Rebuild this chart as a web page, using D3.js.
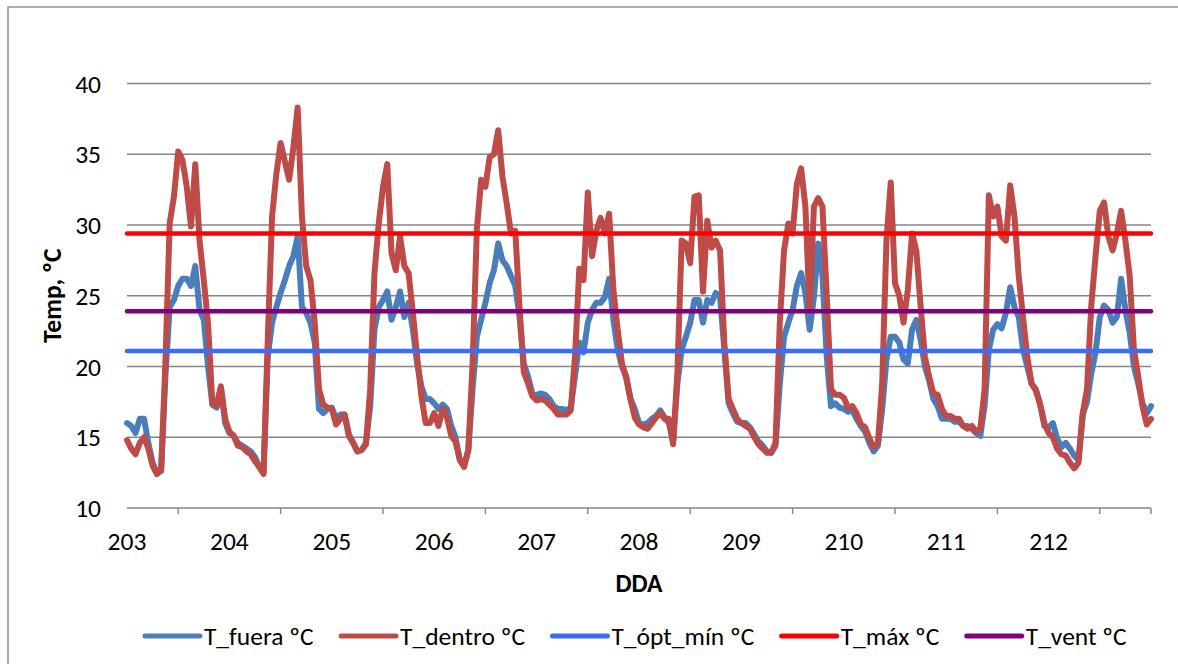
<!DOCTYPE html>
<html>
<head>
<meta charset="utf-8">
<script src="https://cdn.jsdelivr.net/npm/d3@7"></script>
<style>
 body { margin: 0; background: #fff; }
 text { font-family: Carlito, Lato, sans-serif; fill: #000; }
</style>
</head>
<body>
<svg width="1178" height="664"></svg>
<script>

// Data: hourly values, day 203 00:00 to day 213 00:00.

var days = [203, 204, 205, 206, 207, 208, 209, 210, 211, 212];
var yTicks = [10, 15, 20, 25, 30, 35, 40];
var firstDay = 203;
var pointsPerDay = 24;

var tFuera = [
 16.0, 15.8, 15.3, 16.3, 16.3, 14.6, 13.2, 12.5, 12.6, 19.3, 24.2, 24.7, 25.7, 26.2, 26.2, 25.7, 27.1, 24.0, 23.3, 20.0, 17.3, 17.1, 18.5, 16.0,
 15.3, 15.1, 14.6, 14.4, 14.2, 14.0, 13.6, 12.9, 12.5, 20.7, 23.1, 24.2, 25.2, 26.1, 27.1, 27.8, 29.2, 24.2, 23.8, 23.1, 21.7, 17.0, 16.7, 17.0,
 17.1, 16.3, 16.6, 16.6, 15.2, 14.6, 14.0, 14.1, 14.6, 17.2, 22.6, 24.2, 24.7, 25.3, 23.3, 24.2, 25.3, 23.5, 24.5, 22.6, 20.2, 18.6, 17.7, 17.7,
 17.4, 17.0, 17.3, 17.0, 15.8, 15.0, 13.4, 13.0, 14.1, 18.4, 22.1, 23.3, 24.5, 25.9, 26.8, 28.7, 27.5, 27.1, 26.4, 25.7, 23.5, 20.2, 19.3, 18.1,
 18.0, 18.1, 18.0, 17.7, 17.2, 17.0, 17.0, 16.9, 17.1, 19.3, 21.7, 21.0, 23.1, 24.0, 24.5, 24.5, 24.9, 26.2, 23.3, 21.2, 20.0, 19.3, 17.7, 17.0,
 16.0, 15.9, 16.0, 16.3, 16.5, 16.9, 16.4, 16.0, 14.7, 18.8, 21.2, 22.1, 23.1, 24.7, 24.7, 23.1, 24.7, 24.5, 25.2, 24.9, 21.2, 17.4, 16.7, 16.1,
 16.0, 16.0, 15.7, 15.2, 14.7, 14.4, 14.0, 13.9, 14.4, 18.8, 22.1, 23.1, 24.0, 25.7, 26.6, 25.2, 22.6, 24.9, 28.7, 26.4, 20.7, 17.2, 17.4, 17.1,
 17.0, 16.8, 16.9, 16.3, 15.8, 15.4, 14.6, 14.0, 14.4, 17.0, 20.5, 22.1, 22.1, 21.7, 20.5, 20.2, 22.6, 23.3, 21.9, 20.0, 19.0, 17.7, 17.2, 16.3,
 16.3, 16.3, 16.1, 16.1, 15.8, 15.8, 15.6, 15.3, 15.1, 17.2, 21.2, 22.6, 23.0, 22.7, 23.8, 25.6, 24.2, 23.5, 21.2, 20.0, 18.8, 18.4, 17.4, 15.8,
 15.7, 16.0, 14.9, 14.3, 14.6, 14.2, 13.7, 13.4, 16.6, 17.5, 19.5, 21.0, 23.5, 24.3, 24.0, 23.1, 23.5, 26.2, 24.0, 22.4, 20.0, 18.8, 17.4, 16.7,
 17.2
];

var tDentro = [
 14.8, 14.2, 13.8, 14.6, 15.0, 14.2, 13.0, 12.4, 12.7, 20.2, 30.1, 32.0, 35.2, 34.6, 32.7, 29.9, 34.3, 28.9, 26.1, 23.0, 17.4, 17.2, 18.6, 16.3,
 15.4, 15.1, 14.4, 14.3, 14.0, 13.8, 13.3, 12.9, 12.4, 22.0, 30.6, 33.6, 35.8, 34.5, 33.2, 35.5, 38.3, 30.6, 27.1, 26.1, 23.1, 18.4, 17.3, 17.1,
 17.0, 15.9, 16.3, 16.6, 15.1, 14.6, 14.0, 14.1, 14.5, 18.4, 26.6, 30.1, 32.7, 34.3, 28.0, 26.8, 29.2, 27.1, 26.6, 23.8, 20.7, 17.9, 16.0, 16.0,
 16.7, 15.8, 17.0, 16.4, 15.1, 14.7, 13.4, 12.9, 14.1, 20.2, 29.7, 33.2, 32.7, 34.8, 35.0, 36.7, 33.4, 31.5, 29.4, 29.6, 24.2, 19.6, 18.8, 17.9,
 17.6, 17.7, 17.6, 17.3, 17.0, 16.6, 16.6, 16.6, 16.9, 20.7, 26.9, 26.1, 32.3, 27.8, 29.6, 30.5, 29.4, 30.8, 25.4, 22.6, 20.2, 19.2, 17.7, 16.4,
 15.9, 15.7, 15.6, 16.0, 16.4, 16.7, 16.3, 16.3, 14.5, 19.6, 28.9, 28.7, 27.3, 32.0, 32.1, 25.3, 30.3, 28.4, 28.9, 28.2, 21.7, 17.7, 17.0, 16.3,
 16.0, 15.8, 15.6, 15.0, 14.5, 14.2, 13.9, 13.9, 14.6, 23.1, 28.2, 30.1, 29.4, 32.9, 34.0, 31.3, 24.0, 31.3, 31.9, 31.3, 25.0, 18.4, 18.0, 18.0,
 17.8, 17.1, 17.2, 16.7, 15.9, 15.7, 14.9, 14.3, 14.6, 18.8, 28.9, 33.0, 25.9, 25.0, 23.1, 25.4, 29.4, 28.2, 24.3, 20.7, 19.3, 18.1, 18.0, 17.0,
 16.5, 16.5, 16.3, 16.3, 15.8, 15.6, 15.8, 15.4, 15.6, 18.4, 32.1, 30.6, 31.3, 29.2, 28.9, 32.8, 30.6, 26.4, 23.5, 20.7, 18.8, 18.3, 17.3, 16.0,
 15.3, 15.0, 14.2, 13.8, 13.7, 13.2, 12.8, 13.2, 16.7, 18.4, 24.3, 27.8, 31.0, 31.6, 29.2, 28.2, 29.4, 31.0, 28.9, 26.4, 21.2, 19.3, 17.2, 15.9,
 16.3
];

// Constant reference temperatures.
var tOptMin = 21.1;
var tMax = 29.4;
var tVent = 23.9;

var seriesNames = ['T_fuera ºC', 'T_dentro ºC', 'T_ópt_mín ºC', 'T_máx ºC', 'T_vent ºC'];
var seriesColors = ['#4a7ebb', '#be4b48', '#3a6cff', '#ff0000', '#800080'];

var fontSize = '25.5px';

// Select the SVG.

var svg = d3.select('svg');

// Outer chart border (only left and top edges fall inside the picture).
svg.append('rect')
 .attr('x', 8).attr('y', 7)
 .attr('width', 1200).attr('height', 700)
 .attr('fill', 'none')
 .attr('stroke', '#868686')
 .attr('stroke-width', 1.3);

var plot = {left: 127, right: 1151, top: 83.5, bottom: 508};

var x = d3.scaleLinear()
 .domain([firstDay, firstDay + days.length])
 .range([plot.left, plot.right]);

var y = d3.scaleLinear()
 .domain([yTicks[0], yTicks[yTicks.length - 1]])
 .range([plot.bottom, plot.top]);

// Horizontal gridlines.

svg.append('g')
 .selectAll('line')
 .data(yTicks)
 .enter().append('line')
 .attr('x1', plot.left)
 .attr('x2', plot.right)
 .attr('y1', function(d) { return y(d); })
 .attr('y2', function(d) { return y(d); })
 .attr('stroke', '#868686')
 .attr('stroke-width', 1.4);

// Y axis labels.

svg.append('g')
 .selectAll('text')
 .data(yTicks)
 .enter().append('text')
 .attr('x', 101)
 .attr('y', function(d) { return y(d) + 9; })
 .attr('text-anchor', 'end')
 .style('font-size', fontSize)
 .text(function(d) { return d; });

// X axis tick marks sit between day labels, plus one at the end of the axis.

var tickPos = days.map(function(d) { return d + 0.5; });
tickPos.push(firstDay + days.length);

svg.append('g')
 .selectAll('line')
 .data(tickPos)
 .enter().append('line')
 .attr('x1', function(d) { return x(d); })
 .attr('x2', function(d) { return x(d); })
 .attr('y1', plot.bottom)
 .attr('y2', plot.bottom + 6)
 .attr('stroke', '#868686')
 .attr('stroke-width', 1.4);

svg.append('g')
 .selectAll('text')
 .data(days)
 .enter().append('text')
 .attr('x', function(d) { return x(d); })
 .attr('y', 550)
 .attr('text-anchor', 'middle')
 .style('font-size', fontSize)
 .text(function(d) { return d; });

// Axis titles.

svg.append('text')
 .attr('x', (plot.left + plot.right) / 2)
 .attr('y', 592)
 .attr('text-anchor', 'middle')
 .style('font-size', fontSize)
 .style('font-weight', 'bold')
 .text('DDA');

svg.append('text')
 .attr('transform', 'translate(61,' + ((plot.top + plot.bottom) / 2) + ') rotate(-90)')
 .attr('text-anchor', 'middle')
 .style('font-size', fontSize)
 .style('font-weight', 'bold')
 .text('Temp, ºC');

// Temperature lines.

var line = d3.line()
 .x(function(d, i) { return x(firstDay + i / pointsPerDay); })
 .y(function(d) { return y(d); });

var lines = svg.append('g')
 .attr('fill', 'none')
 .attr('stroke-linejoin', 'round')
 .attr('stroke-linecap', 'round');

lines.append('path')
 .attr('d', line(tFuera))
 .attr('stroke', seriesColors[0])
 .attr('stroke-width', 6);

lines.append('path')
 .attr('d', line(tDentro))
 .attr('stroke', seriesColors[1])
 .attr('stroke-width', 6);

// Constant reference lines across the whole period.

var refs = [tOptMin, tMax, tVent];
lines.selectAll('line.ref')
 .data(refs)
 .enter().append('line')
 .attr('class', 'ref')
 .attr('x1', x(firstDay))
 .attr('x2', x(firstDay + days.length))
 .attr('y1', function(d) { return y(d); })
 .attr('y2', function(d) { return y(d); })
 .attr('stroke', function(d, i) { return seriesColors[i + 2]; })
 .attr('stroke-width', 4.5);

// Legend, laid out from the text widths and centred under the plot.

var legend = svg.append('g');
var sampleW = 55, sampleGap = 4, itemGap = 27, legendY = 636;
var items = legend.selectAll('g')
 .data(seriesNames)
 .enter().append('g');

items.append('line')
 .attr('x1', 0).attr('x2', sampleW)
 .attr('y1', legendY).attr('y2', legendY)
 .attr('stroke', function(d, i) { return seriesColors[i]; })
 .attr('stroke-width', 5)
 .attr('stroke-linecap', 'round');

items.append('text')
 .attr('x', sampleW + sampleGap)
 .attr('y', legendY + 9)
 .style('font-size', fontSize)
 .text(function(d) { return d; });

var widths = [];
items.each(function() { widths.push(this.getBBox().width); });
var total = d3.sum(widths) + itemGap * (widths.length - 1);
var cursor = 636 - total / 2;
items.attr('transform', function(d, i) {
 var t = 'translate(' + cursor + ',0)';
 cursor += widths[i] + itemGap;
 return t;
});

</script>
</body>
</html>
